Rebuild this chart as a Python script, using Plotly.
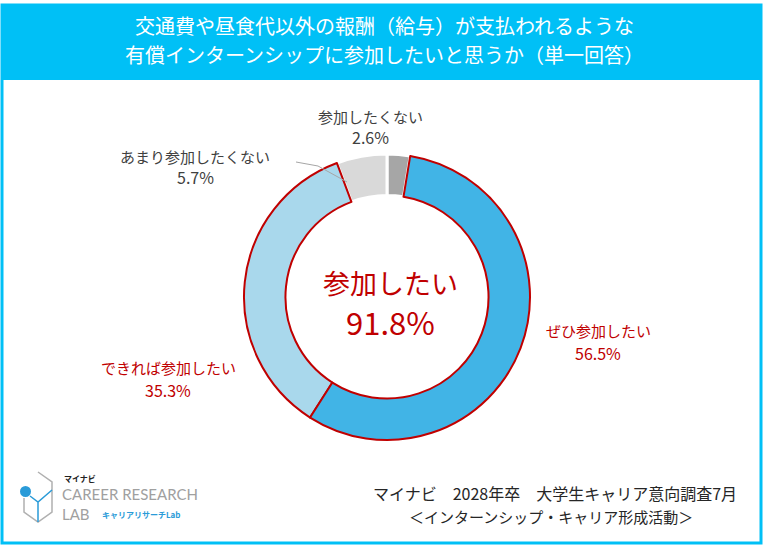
import plotly.graph_objects as go

# data (counterclockwise from 12 o'clock)
labels = ['参加したくない', 'あまり参加したくない', 'できれば参加したい', 'ぜひ参加したい']
values = [2.6, 5.7, 35.3, 56.5]
colors = ['#A6A6A6', '#D9D9D9', '#A9D8EC', '#41B4E6']
line_colors = ['#FFFFFF', '#FFFFFF', '#C00000', '#C00000']
line_widths = [3, 3, 2, 2]
text_colors = ['#404040', '#404040', '#C00000', '#C00000']

title_lines = ['交通費や昼食代以外の報酬（給与）が支払われるような',
               '有償インターンシップに参加したいと思うか（単一回答）']
center_label = '参加したい'
source_lines = ['マイナビ\u30002028年卒\u3000大学生キャリア意向調査7月', '＜インターンシップ・キャリア形成活動＞']

W, H = 768, 548
FONT = 'Noto Sans CJK JP'
RED = '#C00000'
CYAN = '#00C0F6'


def px(x):
    return x / W


def py(y):
    return 1 - y / H


def note(x, y, text, size, color, family=FONT, xanchor='center'):
    return dict(x=px(x), y=py(y), xref='paper', yref='paper', text=text, showarrow=False,
                xanchor=xanchor, yanchor='middle', align='center',
                font=dict(size=size, color=color, family=family))


fig = go.Figure()

# donut: centre (387, 297), outer radius 143
fig.add_trace(go.Pie(
    labels=labels,
    values=values,
    sort=False,
    direction='counterclockwise',
    rotation=0,
    hole=0.71,
    marker=dict(colors=colors, line=dict(color=line_colors, width=line_widths)),
    textinfo='none',
    hoverinfo='label+percent',
    showlegend=False,
    domain=dict(x=[px(244), px(530)], y=[py(440), py(154)]),
))

# label positions (pixels), kept apart from the values
label_pos = [(370, 117, 137), (195, 156, 177), (168, 367, 390), (598, 330, 353)]

annotations = []
for name, v, c, (x, y1, y2) in zip(labels, values, text_colors, label_pos):
    annotations.append(note(x, y1, name, 15, c))
    annotations.append(note(x, y2, f'{v}%', 16, c))

total = round(values[2] + values[3], 1)
annotations.append(note(390, 282, center_label, 27, RED))
annotations.append(note(390, 321, f'{total}%', 31, RED))

# title in cyan band
annotations.append(note(384, 25, title_lines[0], 20, 'white'))
annotations.append(note(384, 54, title_lines[1], 20, 'white'))

# source
annotations.append(note(739, 493, source_lines[0], 16, '#262626', xanchor='right'))
annotations.append(note(551, 516, source_lines[1], 15, '#262626'))

# logo text
annotations.append(note(62, 478, '<b>マイナビ</b>', 8, '#222222', xanchor='left'))
annotations.append(note(60, 494, 'CAREER RESEARCH', 15, '#A0A0A0', family='Lato', xanchor='left'))
annotations.append(note(60, 514, 'LAB', 15, '#A0A0A0', family='Lato', xanchor='left'))
annotations.append(note(100, 514, '<b>キャリアリサーチLab</b>', 8, '#2A9BD8', xanchor='left'))

shapes = [
    # outer frame and title band
    dict(type='rect', xref='paper', yref='paper', x0=px(2), x1=px(761), y0=py(543), y1=py(5),
         line=dict(color=CYAN, width=3), fillcolor='white', layer='below'),
    dict(type='rect', xref='paper', yref='paper', x0=px(2), x1=px(761), y0=py(80), y1=py(5),
         line=dict(width=0), fillcolor=CYAN, layer='below'),
    # leader line for あまり参加したくない
    dict(type='path', xref='paper', yref='paper',
         path=f'M {px(296)} {py(162)} L {px(318)} {py(166)} L {px(347)} {py(182)}',
         line=dict(color='#A6A6A6', width=1)),
    # logo icon
    dict(type='path', xref='paper', yref='paper',
         path=f'M {px(38)} {py(472)} L {px(52)} {py(482)} L {px(52)} {py(512)} L {px(38)} {py(522)} '
              f'L {px(24)} {py(512)} L {px(24)} {py(498)}',
         line=dict(color='#B0B0B0', width=1.5)),
    dict(type='path', xref='paper', yref='paper',
         path=f'M {px(30)} {py(496)} L {px(38)} {py(502)} L {px(52)} {py(490)} M {px(38)} {py(502)} L {px(38)} {py(522)}',
         line=dict(color='#2A9BD8', width=1.5)),
    dict(type='circle', xref='paper', yref='paper', x0=px(20), x1=px(31), y0=py(497), y1=py(486),
         fillcolor='#2A9BD8', line=dict(width=0)),
]

fig.update_layout(
    width=W, height=H,
    margin=dict(l=0, r=0, t=0, b=0),
    paper_bgcolor='white',
    plot_bgcolor='white',
    annotations=annotations,
    shapes=shapes,
)

# drop the default page margin so the figure sits at the window's corner
fig.write_html('out.html', config={'displayModeBar': False},
               post_script="document.body.style.margin='0';")
